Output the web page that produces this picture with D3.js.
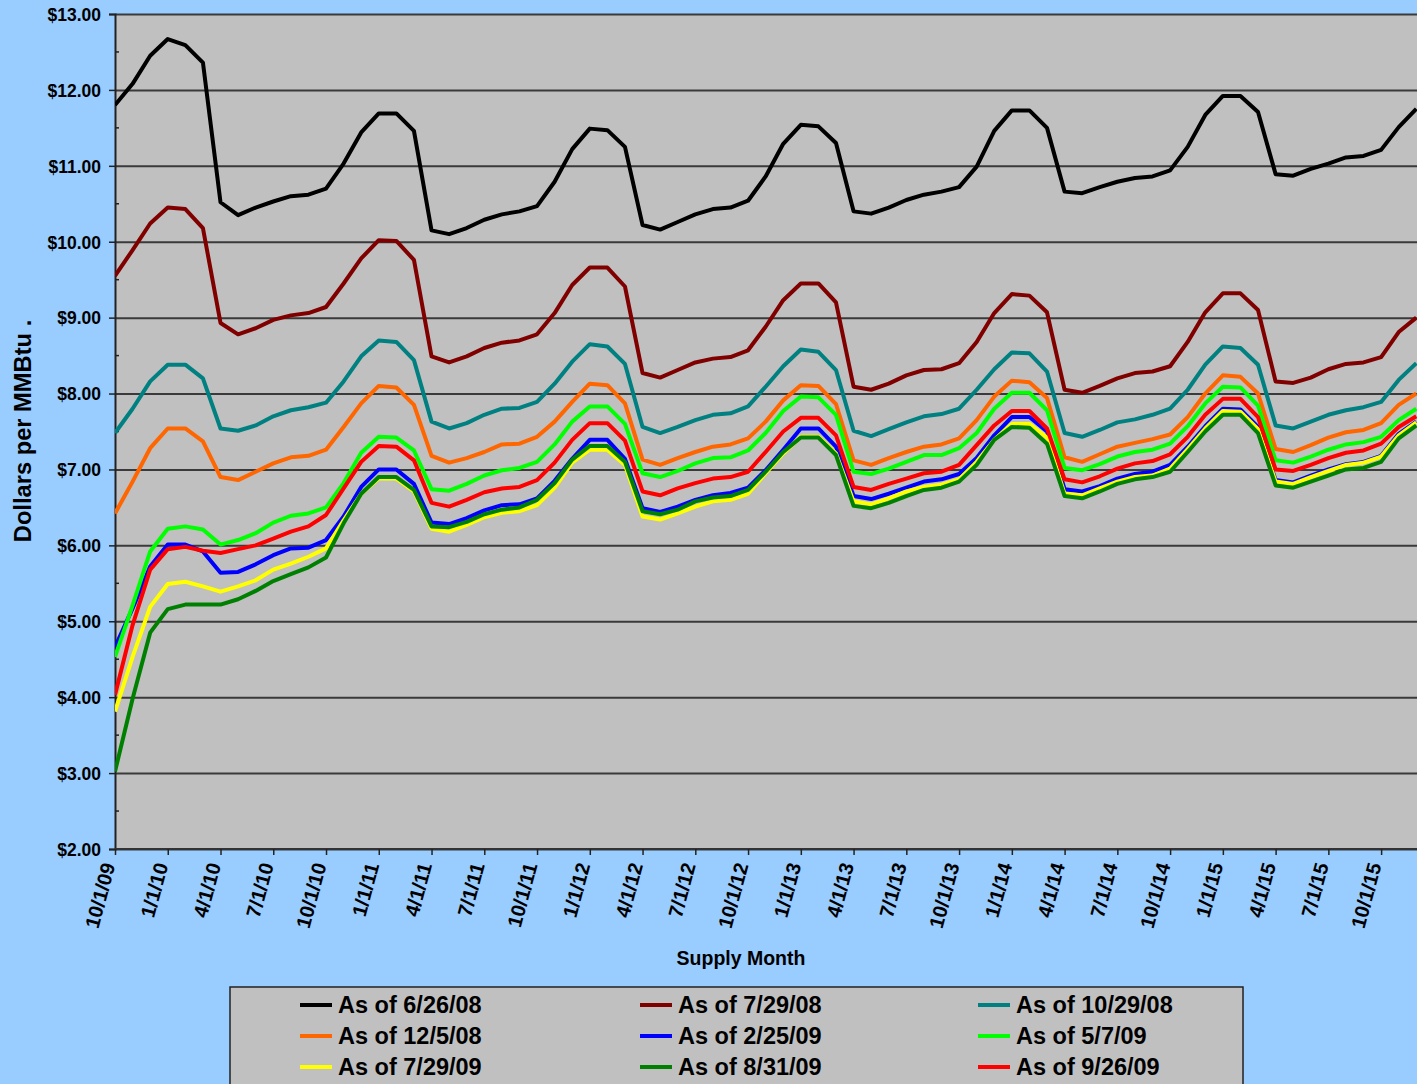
<html>
<head>
  <script src="https://d3js.org/d3.v7.min.js"></script>
  <style>
    body { margin: 0; background: #99ccff; }
    text { font-family: Arial, "Liberation Sans", sans-serif; font-weight: bold; fill: #000; }
  </style>
</head>
<body>
  <svg id="chart" width="1417" height="1084"></svg>
  <script>
    // monthly supply months, 10/1/09 .. 12/1/15
    const tickLabels = ["10/1/09", "1/1/10", "4/1/10", "7/1/10", "10/1/10", "1/1/11", "4/1/11", "7/1/11", "10/1/11",
      "1/1/12", "4/1/12", "7/1/12", "10/1/12", "1/1/13", "4/1/13", "7/1/13", "10/1/13", "1/1/14", "4/1/14",
      "7/1/14", "10/1/14", "1/1/15", "4/1/15", "7/1/15", "10/1/15"];
    const yTicks = [2, 3, 4, 5, 6, 7, 8, 9, 10, 11, 12, 13];

    const seriesNames = ["As of 6/26/08", "As of 7/29/08", "As of 10/29/08", "As of 12/5/08", "As of 2/25/09",
      "As of 5/7/09", "As of 7/29/09", "As of 8/31/09", "As of 9/26/09"];
    const seriesColors = ["#000000", "#800000", "#008080", "#ff6600", "#0000ff", "#00ff00", "#ffff00", "#008000", "#ff0000"];

    const s0626 = [11.80, 12.08, 12.45, 12.67, 12.59, 12.36, 10.52, 10.35, 10.45, 10.53,
      10.60, 10.62, 10.70, 11.03, 11.44, 11.69, 11.69, 11.46, 10.15, 10.10,
      10.18, 10.29, 10.36, 10.40, 10.47, 10.79, 11.22, 11.49, 11.47, 11.25,
      10.22, 10.16, 10.26, 10.36, 10.43, 10.45, 10.54, 10.86, 11.29, 11.54,
      11.52, 11.30, 10.40, 10.37, 10.45, 10.55, 10.62, 10.66, 10.72, 10.99,
      11.46, 11.73, 11.73, 11.50, 10.66, 10.64, 10.72, 10.79, 10.84, 10.86,
      10.94, 11.25, 11.67, 11.92, 11.92, 11.71, 10.89, 10.87, 10.96, 11.03,
      11.11, 11.13, 11.21, 11.51, 11.75];
    const s0729 = [9.55, 9.89, 10.24, 10.45, 10.43, 10.18, 8.93, 8.78, 8.86, 8.97,
      9.03, 9.06, 9.14, 9.45, 9.78, 10.02, 10.01, 9.76, 8.49, 8.41,
      8.49, 8.60, 8.67, 8.70, 8.78, 9.06, 9.43, 9.66, 9.66, 9.41,
      8.27, 8.21, 8.31, 8.41, 8.46, 8.48, 8.57, 8.88, 9.23, 9.45,
      9.45, 9.20, 8.09, 8.05, 8.13, 8.24, 8.31, 8.32, 8.40, 8.68,
      9.06, 9.31, 9.29, 9.07, 8.05, 8.01, 8.10, 8.20, 8.27, 8.29,
      8.36, 8.68, 9.07, 9.32, 9.32, 9.10, 8.16, 8.14, 8.21, 8.32,
      8.39, 8.41, 8.48, 8.81, 9.00];
    const s1029 = [7.48, 7.80, 8.16, 8.38, 8.38, 8.20, 7.54, 7.51, 7.58, 7.70,
      7.78, 7.82, 7.88, 8.16, 8.49, 8.70, 8.68, 8.44, 7.63, 7.54,
      7.61, 7.72, 7.80, 7.81, 7.89, 8.13, 8.42, 8.65, 8.62, 8.39,
      7.56, 7.48, 7.56, 7.65, 7.72, 7.74, 7.83, 8.09, 8.36, 8.58,
      8.55, 8.31, 7.51, 7.44, 7.53, 7.62, 7.70, 7.73, 7.80, 8.05,
      8.32, 8.54, 8.53, 8.29, 7.48, 7.43, 7.52, 7.62, 7.66, 7.72,
      7.80, 8.05, 8.38, 8.62, 8.60, 8.38, 7.58, 7.54, 7.63, 7.72,
      7.78, 7.82, 7.89, 8.18, 8.40];
    const s1205 = [6.42, 6.84, 7.28, 7.54, 7.54, 7.37, 6.90, 6.86, 6.97, 7.08,
      7.16, 7.18, 7.26, 7.56, 7.87, 8.10, 8.08, 7.85, 7.18, 7.09,
      7.15, 7.23, 7.33, 7.34, 7.43, 7.63, 7.89, 8.13, 8.11, 7.87,
      7.13, 7.06, 7.15, 7.23, 7.30, 7.33, 7.41, 7.63, 7.91, 8.11,
      8.10, 7.86, 7.12, 7.06, 7.15, 7.23, 7.30, 7.33, 7.41, 7.65,
      7.96, 8.17, 8.15, 7.94, 7.16, 7.10, 7.20, 7.30, 7.35, 7.40,
      7.46, 7.69, 8.00, 8.24, 8.22, 8.00, 7.27, 7.23, 7.32, 7.42,
      7.49, 7.52, 7.61, 7.85, 8.00];
    const s0225 = [4.66, 5.17, 5.72, 6.01, 6.01, 5.92, 5.64, 5.65, 5.75, 5.87,
      5.96, 5.97, 6.07, 6.38, 6.77, 7.00, 7.00, 6.81, 6.30, 6.28,
      6.36, 6.46, 6.53, 6.54, 6.62, 6.85, 7.14, 7.39, 7.39, 7.14,
      6.49, 6.44, 6.51, 6.60, 6.66, 6.69, 6.76, 6.99, 7.26, 7.54,
      7.54, 7.30, 6.65, 6.61, 6.68, 6.76, 6.84, 6.87, 6.94, 7.15,
      7.45, 7.69, 7.69, 7.50, 6.74, 6.71, 6.78, 6.88, 6.94, 6.97,
      7.06, 7.30, 7.57, 7.80, 7.79, 7.56, 6.86, 6.83, 6.92, 7.00,
      7.07, 7.10, 7.18, 7.47, 7.63];
    const s0507 = [4.53, 5.21, 5.92, 6.22, 6.25, 6.21, 6.01, 6.07, 6.16, 6.30,
      6.39, 6.42, 6.50, 6.82, 7.22, 7.43, 7.42, 7.25, 6.74, 6.72,
      6.81, 6.92, 6.99, 7.02, 7.10, 7.33, 7.63, 7.83, 7.83, 7.60,
      6.95, 6.90, 6.98, 7.08, 7.15, 7.16, 7.25, 7.48, 7.77, 7.96,
      7.95, 7.72, 6.97, 6.94, 7.01, 7.10, 7.19, 7.19, 7.28, 7.48,
      7.80, 8.01, 8.01, 7.78, 7.02, 6.99, 7.07, 7.17, 7.23, 7.26,
      7.34, 7.57, 7.87, 8.09, 8.08, 7.84, 7.12, 7.09, 7.17, 7.26,
      7.33, 7.36, 7.43, 7.65, 7.80];
    const s0729b = [3.81, 4.53, 5.19, 5.49, 5.52, 5.46, 5.39, 5.46, 5.54, 5.68,
      5.76, 5.85, 5.96, 6.33, 6.68, 6.88, 6.88, 6.71, 6.22, 6.18,
      6.27, 6.37, 6.43, 6.45, 6.53, 6.76, 7.09, 7.26, 7.26, 7.06,
      6.38, 6.34, 6.42, 6.51, 6.58, 6.60, 6.68, 6.95, 7.21, 7.43,
      7.43, 7.21, 6.58, 6.54, 6.62, 6.71, 6.77, 6.80, 6.87, 7.10,
      7.39, 7.60, 7.60, 7.42, 6.68, 6.66, 6.75, 6.84, 6.90, 6.92,
      7.01, 7.27, 7.54, 7.77, 7.76, 7.53, 6.84, 6.81, 6.90, 6.98,
      7.06, 7.09, 7.17, 7.45, 7.62];
    const s0831 = [3.02, 3.98, 4.85, 5.16, 5.22, 5.22, 5.22, 5.29, 5.40, 5.53,
      5.62, 5.71, 5.84, 6.29, 6.68, 6.90, 6.90, 6.73, 6.25, 6.24,
      6.31, 6.41, 6.47, 6.50, 6.60, 6.82, 7.13, 7.31, 7.31, 7.10,
      6.45, 6.41, 6.47, 6.58, 6.63, 6.65, 6.73, 6.97, 7.23, 7.42,
      7.42, 7.19, 6.52, 6.49, 6.56, 6.65, 6.73, 6.76, 6.84, 7.06,
      7.39, 7.56, 7.55, 7.34, 6.65, 6.62, 6.71, 6.81, 6.87, 6.90,
      6.97, 7.23, 7.50, 7.72, 7.72, 7.48, 6.79, 6.76, 6.84, 6.92,
      7.00, 7.02, 7.10, 7.41, 7.58];
    const s0926 = [4.03, 4.95, 5.68, 5.95, 5.98, 5.93, 5.90, 5.95, 6.00, 6.09,
      6.18, 6.25, 6.40, 6.75, 7.10, 7.31, 7.30, 7.12, 6.56, 6.51,
      6.60, 6.70, 6.75, 6.77, 6.86, 7.09, 7.39, 7.61, 7.61, 7.38,
      6.71, 6.66, 6.75, 6.82, 6.88, 6.90, 6.97, 7.23, 7.50, 7.68,
      7.68, 7.45, 6.77, 6.73, 6.81, 6.88, 6.95, 6.97, 7.06, 7.32,
      7.58, 7.77, 7.77, 7.54, 6.87, 6.83, 6.91, 7.01, 7.08, 7.11,
      7.20, 7.43, 7.72, 7.93, 7.93, 7.69, 7.00, 6.98, 7.06, 7.15,
      7.22, 7.25, 7.34, 7.56, 7.70];

    const allSeries = [s0626, s0729, s1029, s1205, s0225, s0507, s0729b, s0831, s0926];

    const svg = d3.select("#chart");
    const width = +svg.attr("width");
    const height = +svg.attr("height");
    const margin = { top: 14, right: 0, bottom: 235, left: 115 };
    const plotBottom = height - margin.bottom;
    const monthW = 17.585;

    svg.append("rect").attr("width", width).attr("height", height).attr("fill", "#99ccff");

    const x = d3.scaleLinear().domain([0, 74]).range([margin.left, margin.left + 74 * monthW]);
    const y = d3.scaleLinear().domain([2, 13]).range([plotBottom, margin.top]);

    svg.append("rect")
      .attr("x", margin.left).attr("y", margin.top)
      .attr("width", width - margin.left).attr("height", plotBottom - margin.top)
      .attr("fill", "#c0c0c0");

    svg.append("clipPath").attr("id", "plotClip")
      .append("rect")
      .attr("x", margin.left).attr("y", margin.top - 4)
      .attr("width", width - margin.left).attr("height", plotBottom - margin.top + 8);

    // horizontal gridlines
    const grid = svg.append("g").attr("class", "gridlines")
      .attr("transform", `translate(${margin.left},0)`)
      .call(d3.axisLeft(y).tickValues(yTicks).tickSize(-(width - margin.left)).tickFormat(""));
    grid.select(".domain").remove();
    grid.selectAll("line").attr("stroke", "#3a3a3a").attr("stroke-width", 2);

    // y axis
    const yAxis = svg.append("g")
      .attr("transform", `translate(${margin.left},0)`)
      .call(d3.axisLeft(y).tickValues(yTicks).tickSize(6).tickPadding(8).tickFormat(d => "$" + d3.format(".2f")(d)));
    yAxis.select(".domain").attr("stroke", "#222").attr("stroke-width", 2);
    yAxis.selectAll(".tick line").attr("stroke", "#222").attr("stroke-width", 1.5);
    yAxis.selectAll("text").style("font-size", "17.5px").attr("dy", "0.36em");

    // minor y ticks (inside)
    const minorY = d3.range(2.5, 13, 1);
    svg.append("g").selectAll("line").data(minorY).join("line")
      .attr("x1", margin.left).attr("x2", margin.left + 4)
      .attr("y1", d => y(d)).attr("y2", d => y(d))
      .attr("stroke", "#222").attr("stroke-width", 1.5);

    // x axis
    const xTickIdx = tickLabels.map((d, i) => i * 3);
    const xAxis = svg.append("g")
      .attr("transform", `translate(0,${plotBottom})`)
      .call(d3.axisBottom(x).tickValues(xTickIdx).tickSize(6).tickFormat((d, i) => tickLabels[i]));
    xAxis.select(".domain").attr("stroke", "#333").attr("stroke-width", 2).attr("d", `M${margin.left},0H${width}`);
    xAxis.selectAll(".tick line").attr("stroke", "#222").attr("stroke-width", 1.5);
    xAxis.selectAll("text")
      .style("font-size", "20px")
      .attr("text-anchor", "end")
      .attr("dy", "0")
      .attr("transform", "translate(0,16) rotate(-75)")
      .attr("x", 0).attr("y", 0);

    // lines
    const line = d3.line().x((d, i) => x(i)).y(d => y(d));
    svg.append("g").attr("clip-path", "url(#plotClip)")
      .selectAll("path").data(allSeries).join("path")
      .attr("d", d => line(d))
      .attr("fill", "none")
      .attr("stroke", (d, i) => seriesColors[i])
      .attr("stroke-width", 4)
      .attr("stroke-linejoin", "round");

    // axis titles
    svg.append("text")
      .attr("transform", "translate(31,431) rotate(-90)")
      .attr("text-anchor", "middle")
      .style("font-size", "23.7px")
      .text("Dollars per MMBtu .");
    svg.append("text")
      .attr("x", 741).attr("y", 965)
      .attr("text-anchor", "middle")
      .style("font-size", "19.5px")
      .text("Supply Month");

    // legend
    const legend = svg.append("g");
    legend.append("rect")
      .attr("x", 230).attr("y", 987).attr("width", 1013).attr("height", 110)
      .attr("fill", "#c0c0c0").attr("stroke", "#222").attr("stroke-width", 1.5);
    const colX = [300, 640, 978];
    const rowY = [1005, 1036, 1067];
    const items = legend.selectAll("g.item").data(seriesNames).join("g")
      .attr("class", "item")
      .attr("transform", (d, i) => `translate(${colX[i % 3]},${rowY[Math.floor(i / 3)]})`);
    items.append("line")
      .attr("x1", 0).attr("x2", 32).attr("y1", 0).attr("y2", 0)
      .attr("stroke", (d, i) => seriesColors[i]).attr("stroke-width", 4);
    items.append("text")
      .attr("x", 38).attr("y", 0).attr("dy", "0.36em")
      .style("font-size", "23.5px")
      .text(d => d);
  </script>
</body>
</html>
